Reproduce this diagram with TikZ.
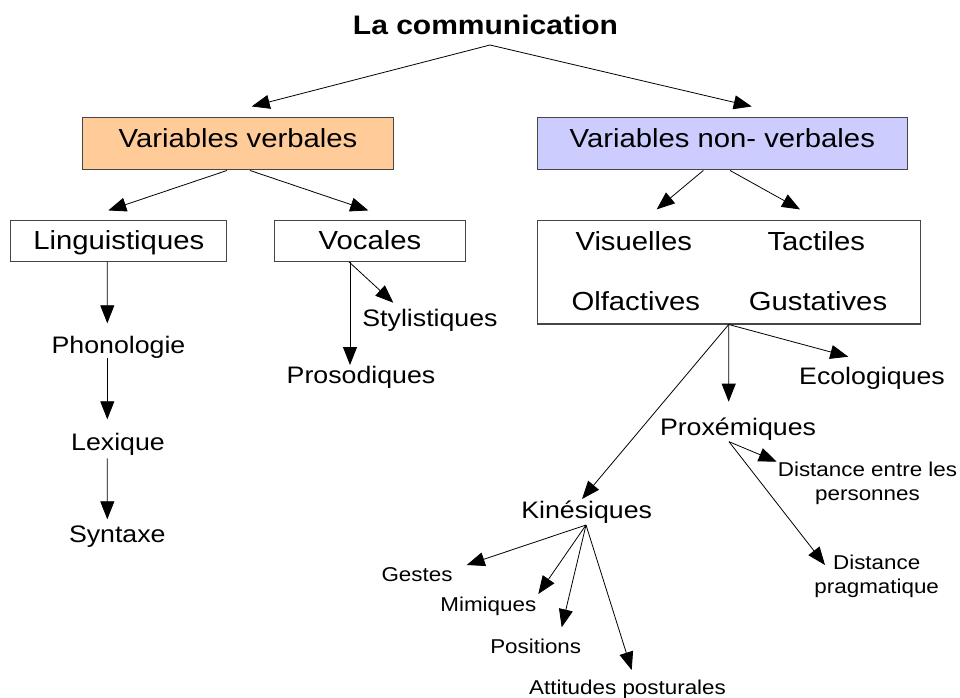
\documentclass[tikz,border=0pt]{standalone}
\usepackage{fontspec}
\setmainfont[FakeStretch=1.12]{Liberation Sans}
\usetikzlibrary{arrows.meta}
\definecolor{vvfill}{RGB}{255,204,153}
\definecolor{vnvfill}{RGB}{204,204,255}
\definecolor{boxline}{RGB}{70,70,70}
\begin{document}
\begin{tikzpicture}[x=0.75pt,y=-0.75pt,
  arr/.style={draw=black, line width=0.6pt, -{Triangle[length=13.5pt,width=10.5pt]}},
  box/.style={draw=boxline, line width=0.8pt, rectangle, inner sep=0pt, font=\fontsize{19.6}{23}\selectfont},
  lbl/.style={inner sep=0pt, anchor=base},
  fbox/.style={font=\fontsize{19.6}{23}\selectfont},
  fmed/.style={font=\fontsize{17.9}{21}\selectfont},
  fsmall/.style={font=\fontsize{15}{17.5}\selectfont}]
\fill[white] (0,0) rectangle (960,697);
\useasboundingbox (0,0) rectangle (960,697);

% title
\node[lbl, font=\bfseries\fontsize{20.1}{24}\selectfont] (title) at (485.5,34) {La communication};

% main boxes
\node[box, fill=vvfill, minimum width=233pt, minimum height=39.2pt, text height=14pt, text depth=8pt] (vv) at (238,143.8) {Variables verbales};
\node[box, fill=vnvfill, minimum width=277.1pt, minimum height=39.2pt, text height=14pt, text depth=8pt] (vnv) at (722.3,143.8) {Variables non- verbales};

\node[box, minimum width=161.8pt, minimum height=30.5pt, text height=14pt, text depth=2pt] (ling) at (118.8,241) {Linguistiques};
\node[box, minimum width=143.6pt, minimum height=30.5pt, text height=14pt, text depth=2pt] (voc) at (370,241) {Vocales};
\node[box, minimum width=287pt, minimum height=77.5pt] (big) at (728.7,272.3) {};

% texts inside big box
\node[lbl, fbox] (vis) at (633.8,250) {Visuelles};
\node[lbl, fbox] (tac) at (816.3,250) {Tactiles};
\node[lbl, fbox] (olf) at (635.8,310) {Olfactives};
\node[lbl, fbox] (gus) at (818,310) {Gustatives};

% medium labels
\node[lbl, fmed] (phon) at (118.5,353.3) {Phonologie};
\node[lbl, fmed] (lex) at (118,450) {Lexique};
\node[lbl, fmed] (syn) at (117.3,542.7) {Syntaxe};
\node[lbl, fmed] (styl) at (430,326) {Stylistiques};
\node[lbl, fmed] (pros) at (361,383.3) {Prosodiques};
\node[lbl, fmed] (eco) at (872,384.3) {Ecologiques};
\node[lbl, fmed] (prox) at (738,435) {Proxémiques};
\node[lbl, fmed] (kin) at (586.7,518.3) {Kinésiques};

% small labels
\node[lbl, fsmall] (gest) at (417,581.7) {Gestes};
\node[lbl, fsmall] (mimi) at (488.3,611.7) {Mimiques};
\node[lbl, fsmall] (posi) at (535.7,653.3) {Positions};
\node[lbl, fsmall] (atti) at (627.5,694) {Attitudes posturales};
\node[lbl, fsmall, align=center] (dist1) at (867.5,500) {Distance entre les\\personnes};
\node[lbl, fsmall, align=center] (dist2) at (876.7,593.3) {Distance\\pragmatique};

% connectors
\draw[arr] ([shift={(4.5,11)}]title.base) -- ([shift={(13.7,-10.7)}]vv.north);
\draw[arr] ([shift={(4.5,11)}]title.base) -- ([shift={(29.4,-10.7)}]vnv.north);
\draw[arr] ([shift={(-11,0)}]vv.south) -- ([shift={(-10.5,-9.7)}]ling.north);
\draw[arr] ([shift={(12,0)}]vv.south) -- ([shift={(-1.7,-9.7)}]voc.north);
\draw[arr] ([shift={(-19,0)}]vnv.south) -- ([shift={(-72,-10.7)}]big.north);
\draw[arr] ([shift={(7.7,0)}]vnv.south) -- ([shift={(71.3,-10.7)}]big.north);

\draw[arr] ([shift={(-11.5,0)}]ling.south) -- ([shift={(-11.2,-30)}]phon.base);
\draw[arr] ([shift={(-11.2,4.7)}]phon.base) -- ([shift={(-10.7,-30.7)}]lex.base);
\draw[arr] ([shift={(-10.7,8.3)}]lex.base) -- ([shift={(-10,-23.4)}]syn.base);

\draw[arr] ([shift={(-21,0)}]voc.south) -- ([shift={(-36.7,-23.3)}]styl.base);
\draw[arr] ([shift={(-20,0)}]voc.south) -- ([shift={(-11,-18.3)}]pros.base);

\draw[arr] (big.south) -- ([shift={(-9.3,-33.3)}]prox.base);
\draw[arr] (big.south) -- ([shift={(-23.7,-27.6)}]eco.base);
\draw[arr] (big.south) -- ([shift={(-4.7,-19.3)}]kin.base);

\draw[arr] ([shift={(-9,6.7)}]prox.base) -- ([shift={(-90.8,-38.3)}]dist1.base);
\draw[arr] ([shift={(-9,6.7)}]prox.base) -- ([shift={(-51.7,-28.3)}]dist2.base);

\draw[arr] ([shift={(-0.7,6.7)}]kin.base) -- ([shift={(49.7,-16.7)}]gest.base);
\draw[arr] ([shift={(-0.7,6.7)}]kin.base) -- ([shift={(50,-17.7)}]mimi.base);
\draw[arr] ([shift={(-0.7,6.7)}]kin.base) -- ([shift={(26,-26)}]posi.base);
\draw[arr] ([shift={(-0.7,6.7)}]kin.base) -- ([shift={(4.2,-24)}]atti.base);
\end{tikzpicture}
\end{document}
